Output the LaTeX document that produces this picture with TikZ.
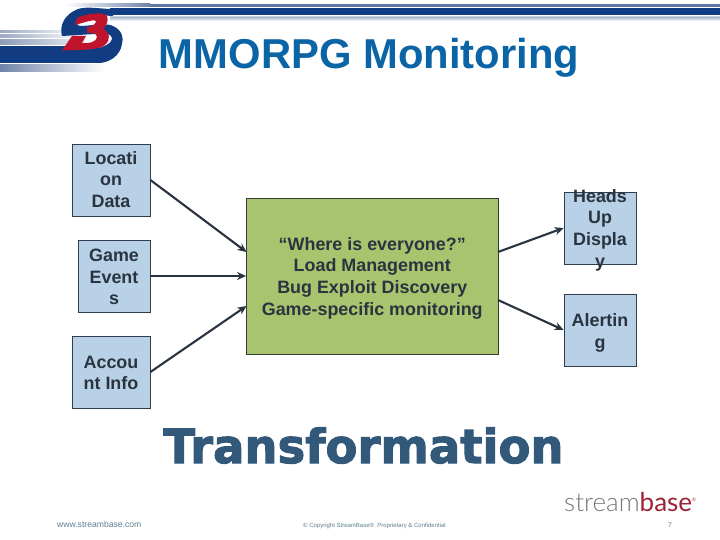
\documentclass[tikz,border=0pt]{standalone}
\usepackage{fontspec}
\setmainfont{Liberation Sans}
\newfontfamily\heavyfont[BoldFeatures={FakeBold=2.2}]{DejaVu Sans}
\newfontfamily\logofont{Lato Light}
\newfontfamily\logofontb{Lato}
\usetikzlibrary{arrows.meta,fadings}
\definecolor{titleblue}{HTML}{0B64A6}
\definecolor{boxblue}{HTML}{B9D1E6}
\definecolor{boxgreen}{HTML}{A9C46E}
\definecolor{inkdark}{HTML}{2A3440}
\definecolor{edgedark}{HTML}{2F3D4D}
\definecolor{navy}{HTML}{123C82}
\definecolor{logored}{HTML}{C0142C}
\definecolor{stripegrey}{HTML}{6F83A8}
\definecolor{transblue}{HTML}{33597A}
\definecolor{footgrey}{HTML}{5F7F92}
\definecolor{sbgrey}{HTML}{77787B}
\definecolor{sbred}{HTML}{9E2236}
\tikzset{
  x=1pt,y=-1pt,
  boxbase/.style={draw=edgedark,line width=0.8pt,inner sep=0pt,minimum height=72pt},
  boxtext/.style={font=\fontsize{17.9}{21.7}\selectfont\bfseries,text=inkdark,align=center,inner sep=0pt,yshift=-1pt},
  flow/.style={draw=inkdark,line width=2.1pt,-{Stealth[length=9pt,width=8pt]}},
  foot/.style={text=footgrey,inner sep=0pt},
}
\begin{document}
\begin{tikzpicture}
\useasboundingbox (0,0) rectangle (720,540);
\fill[white] (0,0) rectangle (720,540);
% header stripes
\fill[stripegrey!85!navy] (150,4) rectangle (720,7);
\shade[left color=white,right color=stripegrey] (65,4) rectangle (150,7);
\fill[navy] (110,8) rectangle (720,15.5);
\fill[stripegrey!40] (110,16.5) rectangle (720,18);
\shade[top color=stripegrey!45,bottom color=white] (110,18) rectangle (720,21);
% left stripes
\shade[left color=stripegrey!70,right color=white] (0,31) rectangle (85,33);
\shade[left color=stripegrey!70,right color=white] (0,35) rectangle (85,37.5);
\shade[left color=stripegrey!80,right color=stripegrey!15] (0,39.5) rectangle (85,45);
\fill[navy] (0,46) rectangle (100,63);
\shade[left color=stripegrey,right color=white] (0,65) rectangle (105,72);
% logo S
\fill[navy] (113,9) -- (113,16) .. controls (100,15) and (88,16) .. (80,20)
  .. controls (76,23) and (76,26) .. (82,26)
  .. controls (95,25) and (108,23) .. (113,26)
  .. controls (122,30) and (124,38) .. (122,44)
  .. controls (120,56) and (110,62) .. (100,63)
  -- (90,50) .. controls (102,48) and (112,44) .. (112,38)
  .. controls (111,34) and (105,32) .. (95,34)
  -- (62,36) .. controls (59,25) and (65,14) .. (78,9)
  .. controls (88,6) and (100,9) .. (113,9) -- cycle;
% logo red
\fill[logored] (77,18) .. controls (85,14) and (103,11) .. (107,16)
  .. controls (109,21) and (106,26) .. (103,29)
  .. controls (110,32) and (111,40) .. (105,45)
  .. controls (100,50) and (80,50) .. (62,50.5)
  -- (72,36) -- (86,36) -- (82,43)
  .. controls (88,44) and (97,42) .. (97,37)
  .. controls (97,33) and (90,32) .. (87,33)
  -- (87,27)
  .. controls (92,27) and (96,24) .. (96,21)
  .. controls (94,19) and (86,22) .. (75,25) -- cycle;
% title
\node[font=\fontsize{41.8}{46}\selectfont\bfseries,text=titleblue,inner sep=0pt,anchor=base] (title) at (369,69) {MMORPG Monitoring};
% boxes
\node[boxbase,fill=boxblue,minimum width=78pt,label={[boxtext,yshift=1.5pt]center:Locati\\on\\Data}] (loc) at (111,180) {};
\node[boxbase,fill=boxblue,minimum width=72pt,label={[boxtext]center:Game\\Event\\s}] (game) at (114,276) {};
\node[boxbase,fill=boxblue,minimum width=78pt,label={[boxtext]center:Accou\\nt Info}] (acct) at (111,372) {};
\node[draw=edgedark!70!boxgreen!60!black,line width=0.8pt,fill=boxgreen,inner sep=0pt,minimum width=251.5pt,minimum height=156pt,
  label={[boxtext,yshift=-1pt]center:“Where is everyone?”\\Load Management\\Bug Exploit Discovery\\Game-specific monitoring}] (mid) at (372.25,276) {};
\node[boxbase,fill=boxblue,minimum width=72pt,label={[boxtext,yshift=-1pt]center:Heads\\Up\\Displa\\y}] (hud) at (600,228) {};
\node[boxbase,fill=boxblue,minimum width=72pt,label={[boxtext,yshift=-2pt]center:Alertin\\g}] (alert) at (600,330) {};
% connectors
\coordinate (midA) at (246.5,252);
\coordinate (midC) at (246.5,306);
\coordinate (midD) at (498,252);
\coordinate (midE) at (498,300);
\draw[flow] (loc.east) -- (midA);
\draw[flow] (game.east) -- (mid.west);
\draw[flow] (acct.east) -- (midC);
\draw[flow] (midD) -- (hud.west);
\draw[flow] (midE) -- (alert.west);
% big word
\node[inner sep=0pt,anchor=base,text=transblue] (word) at (363.5,463) {\scalebox{0.99}[1]{\heavyfont\fontsize{47}{52}\selectfont\bfseries Transformation}};
% footer
\node[foot,anchor=base west,font=\fontsize{8.6}{9}\selectfont] (url) at (57,527) {www.streambase.com};
\node[foot,anchor=base,font=\fontsize{6}{7}\selectfont] (copy) at (374.5,527) {© Copyright StreamBase®\ \ Proprietary \& Confidential};
\node[foot,anchor=base,font=\fontsize{7}{8}\selectfont] (page) at (670,527) {7};
\node[inner sep=0pt,anchor=base west,font=\fontsize{26}{28}\selectfont] (brand) at (564,511) {\textcolor{sbgrey}{\logofont stream}\textcolor{sbred}{\logofontb base}\raisebox{10pt}{\textcolor{sbred}{\fontsize{5}{5}\selectfont ®}}};
\end{tikzpicture}
\end{document}
